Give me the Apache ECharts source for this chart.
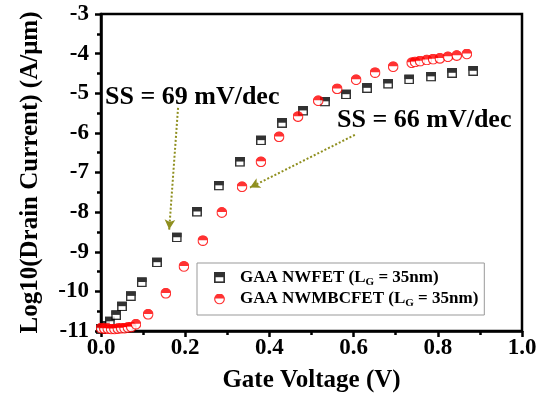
<!DOCTYPE html>
<html><head><meta charset="utf-8">
<script src="https://cdn.jsdelivr.net/npm/echarts@6/dist/echarts.min.js"></script>
<style>html,body{margin:0;padding:0;background:#fff}#c{width:550px;height:398px}</style>
</head><body><div id="c"></div>
<script>
// Data
var nwfetV = [0.000,0.010,0.021,0.036,0.050,0.071,0.097,0.133,0.180,0.228,0.280,0.330,0.380,0.430,0.480,0.532,0.582,0.632,0.682,0.732,0.784,0.834,0.884];
var nwfetI = [-10.95,-10.87,-10.76,-10.60,-10.38,-10.12,-9.77,-9.27,-8.64,-7.99,-7.33,-6.73,-6.19,-5.75,-5.44,-5.21,-5.03,-4.87,-4.76,-4.65,-4.58,-4.49,-4.44];
var mbcV = [0.000,0.008,0.016,0.024,0.032,0.040,0.048,0.056,0.064,0.072,0.083,0.112,0.154,0.197,0.242,0.287,0.335,0.380,0.423,0.468,0.516,0.561,0.606,0.651,0.694,0.738,0.746,0.758,0.774,0.789,0.805,0.824,0.845,0.869];
var mbcI = [-10.93,-10.94,-10.94,-10.95,-10.95,-10.94,-10.93,-10.93,-10.91,-10.90,-10.83,-10.58,-10.05,-9.37,-8.72,-8.01,-7.36,-6.73,-6.10,-5.59,-5.19,-4.89,-4.66,-4.48,-4.33,-4.23,-4.21,-4.19,-4.16,-4.14,-4.12,-4.08,-4.05,-4.01];
var seriesNames = ['NWFET', 'NWMBCFET'];
var xTicks = {min: 0, max: 1, step: 0.2};
var yTicks = {min: -11, max: -3, step: 1};
var arrow69 = [[0.183, -5.37], [0.162, -8.44]];
var arrow66 = [[0.603, -6.05], [0.354, -7.38]];
var note69 = 'SS = 69 mV/dec';
var note66 = 'SS = 66 mV/dec';

function zip(a, b) { return a.map(function (v, i) { return [v, b[i]]; }); }
var sq = "<svg xmlns='http://www.w3.org/2000/svg' width='20' height='20'><rect x='1.5' y='1.5' width='17' height='17' fill='white' stroke='black' stroke-width='3'/><rect x='0' y='0' width='20' height='9.5' fill='black'/></svg>";
var ci = "<svg xmlns='http://www.w3.org/2000/svg' width='24' height='24'><circle cx='12' cy='12' r='10.5' fill='white' stroke='red' stroke-width='2.6'/><path d='M1.5,11 A10.5,10.5 0 0 1 22.5,11 Z' fill='red'/></svg>";
var sqImg = 'image://data:image/svg+xml;charset=utf-8,' + encodeURIComponent(sq);
var ciImg = 'image://data:image/svg+xml;charset=utf-8,' + encodeURIComponent(ci);
var serif = '"Liberation Serif", "Times New Roman", serif';

var chart = echarts.init(document.getElementById('c'), null, {renderer: 'canvas'});
chart.setOption({
  animation: false,
  backgroundColor: '#fff',
  grid: {left: 101, right: 28, top: 14, bottom: 67, show: true, borderColor: '#000', borderWidth: 2.5, backgroundColor: 'transparent'},
  xAxis: {
    type: 'value', min: xTicks.min, max: xTicks.max, interval: xTicks.step,
    name: 'Gate Voltage (V)', nameLocation: 'middle', nameGap: 37,
    nameTextStyle: {fontFamily: serif, fontWeight: 'bold', fontSize: 25, color: '#000'},
    axisLine: {lineStyle: {color: '#000', width: 2.5}},
    axisTick: {length: 6, lineStyle: {width: 2.5, color: '#000'}},
    minorTick: {show: true, splitNumber: 2, length: 4, lineStyle: {width: 2.5, color: '#000'}},
    splitLine: {show: false},
    axisLabel: {margin: 6, fontFamily: serif, fontWeight: 'bold', fontSize: 23, color: '#000',
      formatter: function (v) { return v.toFixed(1); }}
  },
  yAxis: {
    type: 'value', min: yTicks.min, max: yTicks.max, interval: yTicks.step,
    name: 'Log10(Drain Current) (A/μm)', nameLocation: 'middle', nameGap: 58,
    nameTextStyle: {fontFamily: serif, fontWeight: 'bold', fontSize: 25, color: '#000'},
    axisLine: {lineStyle: {color: '#000', width: 2.5}},
    axisTick: {length: 6, lineStyle: {width: 2.5, color: '#000'}},
    minorTick: {show: true, splitNumber: 2, length: 4, lineStyle: {width: 2.5, color: '#000'}},
    splitLine: {show: false},
    axisLabel: {margin: 12, fontFamily: serif, fontWeight: 'bold', fontSize: 23, color: '#000'}
  },
  legend: {
    orient: 'vertical', left: 197, top: 263, itemWidth: 11, itemHeight: 11, itemGap: 3,
    borderColor: '#999', borderWidth: 1, padding: [6, 6, 6, 17],
    data: [seriesNames[0], seriesNames[1]],
    formatter: function (n) {
      var dev = n === 'NWFET' ? 'GAA NWFET' : 'GAA NWMBCFET';
      return '{b|' + dev + ' (L}{s|G}{b| = 35nm)}';
    },
    textStyle: {padding: [0, 0, 0, 10], rich: {
      b: {fontFamily: serif, fontWeight: 'bold', fontSize: 17, color: '#000'},
      s: {fontFamily: serif, fontWeight: 'bold', fontSize: 11, color: '#000', padding: [9, 0, 0, 0]}
    }}
  },
  graphic: [
    {type: 'text', x: 105, y: 97, style: {text: note69, font: 'bold 26px ' + serif, fill: '#000', verticalAlign: 'middle'}},
    {type: 'text', x: 337, y: 120, style: {text: note66, font: 'bold 26px ' + serif, fill: '#000', verticalAlign: 'middle'}}
  ],
  series: [
    {name: seriesNames[0], type: 'scatter', data: zip(nwfetV, nwfetI), symbol: sqImg, symbolSize: 10, z: 2},
    {name: seriesNames[1], type: 'scatter', data: zip(mbcV, mbcI), symbol: ciImg, symbolSize: 11, z: 3,
      markLine: {silent: true, symbol: ['none', 'arrow'], symbolSize: [8, 10], label: {show: false},
        lineStyle: {color: '#8f8f1f', type: 'dotted', width: 2},
        data: [
          [{coord: arrow69[0]}, {coord: arrow69[1]}],
          [{coord: arrow66[0]}, {coord: arrow66[1]}]
        ]}}
  ]
});
</script></body></html>
